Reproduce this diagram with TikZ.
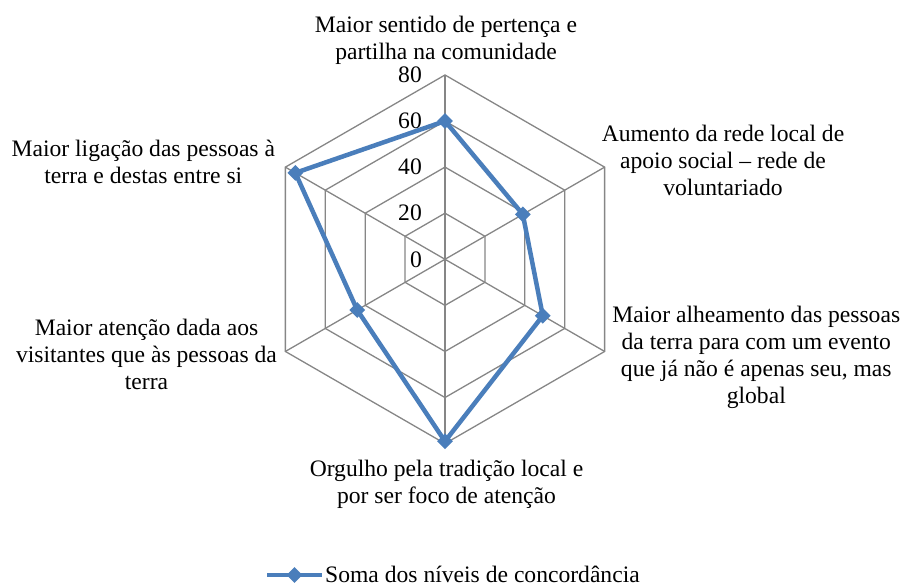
\documentclass[tikz,border=0pt]{standalone}
\usepackage{fontspec}
\setmainfont{Liberation Serif}
\usetikzlibrary{shapes.geometric,calc}
\definecolor{gridgray}{RGB}{134,134,134}
\definecolor{serblue}{RGB}{74,126,187}
\begin{document}
\begin{tikzpicture}[x=1pt,y=1pt,
  grid/.style={draw=gridgray, line width=1.3pt},
  series/.style={draw=serblue, line width=4.5pt, line join=round},
  mk/.style={diamond, fill=serblue, inner sep=0pt, minimum size=16pt},
  lbl/.style={font=\fontsize{23.6}{27}\selectfont, align=center, inner sep=0pt, anchor=north},
  ticklbl/.style={font=\fontsize{23.6}{27}\selectfont, anchor=east, inner sep=0pt}]
\useasboundingbox (0,0) rectangle (908,588);
\coordinate (c) at (445,328.7);
\def\u{2.304}
% rings
\foreach \v in {20,40,60,80}{
  \pgfmathsetmacro{\r}{\v*\u}
  \draw[grid, shift={(c)}] (90:\r) -- (30:\r) -- (-30:\r) -- (-90:\r) -- (-150:\r) -- (150:\r) -- cycle;
}
% spokes
\foreach \a in {90,30,-30,-90,-150,150}{
  \draw[grid] (c) -- ($(c)+(\a:184.3)$);
}
% tick labels
\foreach \v in {0,20,40,60,80}{
  \node[ticklbl] (t\v) at ($(c)+(-23,\v*\u)$) {\v};
}
% data
\coordinate (d1) at ($(c)+(90:60*\u)$);
\coordinate (d2) at ($(c)+(30:39*\u)$);
\coordinate (d3) at ($(c)+(-30:49*\u)$);
\coordinate (d4) at ($(c)+(-90:79*\u)$);
\coordinate (d5) at ($(c)+(-150:44*\u)$);
\coordinate (d6) at ($(c)+(150:75*\u)$);
\draw[series] (d1) -- (d2) -- (d3) -- (d4) -- (d5) -- (d6) -- cycle;
\foreach \i in {1,...,6}{ \node[mk] (m\i) at (d\i) {}; }
% axis labels
\node[lbl] (l1) at (446,574.9) {\strut Maior sentido de pertença e\\partilha na comunidade};
\node[lbl] (l2) at (723,465.2) {\strut Aumento da rede local de\\apoio social – rede de\\voluntariado};
\node[lbl] (l3) at (756.3,284.9) {\strut Maior alheamento das pessoas\\da terra para com um evento\\que já não é apenas seu, mas\\global};
\node[lbl] (l4) at (446.5,130.2) {\strut Orgulho pela tradição local e\\por ser foco de atenção};
\node[lbl] (l5) at (146.5,271.9) {\strut Maior atenção dada aos\\visitantes que às pessoas da\\terra};
\node[lbl] (l6) at (143.3,450.2) {\strut Maior ligação das pessoas à\\terra e destas entre si};
% legend
\coordinate (la) at (267,13);
\coordinate (lb) at (322,13);
\draw[series] (la) -- (lb);
\node[mk] (lm) at ($(la)!0.5!(lb)$) {};
\node[font=\fontsize{23.6}{27}\selectfont, anchor=base west, inner sep=0pt] (lt) at (325,5) {Soma dos níveis de concordância};
\end{tikzpicture}
\end{document}
